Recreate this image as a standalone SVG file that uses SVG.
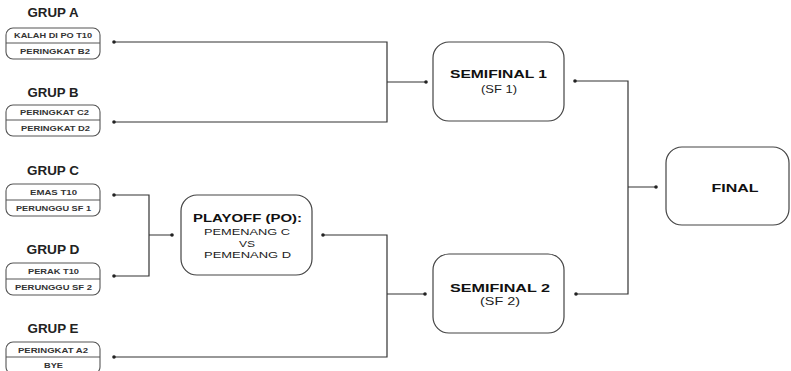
<svg xmlns="http://www.w3.org/2000/svg" width="791" height="371" viewBox="0 0 791 371">
<style>
.bg{fill:#ffffff}
.gbox{fill:#fff;stroke:#555;stroke-width:1.1}
.div{stroke:#555;stroke-width:1}
.node{fill:#fff;stroke:#444;stroke-width:1.2}
.title{font-family:"Liberation Sans",Arial,sans-serif;font-weight:bold;font-size:13px;fill:#222;text-anchor:middle}
.cell{font-family:"Liberation Sans",Arial,sans-serif;font-weight:bold;font-size:7px;fill:#333;text-anchor:middle}
.big{font-family:"Liberation Sans",Arial,sans-serif;font-weight:bold;font-size:10.5px;fill:#111;text-anchor:middle}
.sub{font-family:"Liberation Sans",Arial,sans-serif;font-size:9.5px;fill:#222;text-anchor:middle}
.sf{font-size:10.5px}
.wire{fill:none;stroke:#333;stroke-width:1.2}
.dot{fill:#222}
</style>
<rect class="bg" x="0" y="0" width="791" height="371"/>

<g id="grup-a">
<text class="title" x="53" y="17" textLength="51" lengthAdjust="spacingAndGlyphs">GRUP A</text>
<rect class="gbox" x="6" y="28" width="94" height="31" rx="7"/>
<line class="div" x1="6" y1="43" x2="100" y2="43"/>
<text class="cell" x="53" y="37.5" textLength="78" lengthAdjust="spacingAndGlyphs">KALAH DI PO T10</text>
<text class="cell" x="55" y="54" textLength="70" lengthAdjust="spacingAndGlyphs">PERINGKAT B2</text>
</g>

<g id="grup-b">
<text class="title" x="53" y="97" textLength="51" lengthAdjust="spacingAndGlyphs">GRUP B</text>
<rect class="gbox" x="6" y="105" width="94" height="31" rx="7"/>
<line class="div" x1="6" y1="120" x2="100" y2="120"/>
<text class="cell" x="54.5" y="115" textLength="69" lengthAdjust="spacingAndGlyphs">PERINGKAT C2</text>
<text class="cell" x="55.5" y="131" textLength="69" lengthAdjust="spacingAndGlyphs">PERINGKAT D2</text>
</g>

<g id="grup-c">
<text class="title" x="53" y="175" textLength="52" lengthAdjust="spacingAndGlyphs">GRUP C</text>
<rect class="gbox" x="6" y="184" width="94" height="32" rx="7"/>
<line class="div" x1="6" y1="200" x2="100" y2="200"/>
<text class="cell" x="53.5" y="195" textLength="47" lengthAdjust="spacingAndGlyphs">EMAS T10</text>
<text class="cell" x="53.5" y="211" textLength="75" lengthAdjust="spacingAndGlyphs">PERUNGGU SF 1</text>
</g>

<g id="grup-d">
<text class="title" x="53" y="254" textLength="53" lengthAdjust="spacingAndGlyphs">GRUP D</text>
<rect class="gbox" x="6" y="263" width="94" height="32" rx="7"/>
<line class="div" x1="6" y1="279" x2="100" y2="279"/>
<text class="cell" x="53.5" y="274" textLength="51" lengthAdjust="spacingAndGlyphs">PERAK T10</text>
<text class="cell" x="53.5" y="290" textLength="77" lengthAdjust="spacingAndGlyphs">PERUNGGU SF 2</text>
</g>

<g id="grup-e">
<text class="title" x="53" y="333" textLength="51" lengthAdjust="spacingAndGlyphs">GRUP E</text>
<rect class="gbox" x="6" y="342" width="94" height="32" rx="7"/>
<line class="div" x1="6" y1="357" x2="100" y2="357"/>
<text class="cell" x="53" y="353" textLength="70" lengthAdjust="spacingAndGlyphs">PERINGKAT A2</text>
<text class="cell" x="53.5" y="368" textLength="19" lengthAdjust="spacingAndGlyphs">BYE</text>
</g>

<g id="playoff">
<rect class="node" x="181" y="195" width="131" height="80" rx="16"/>
<text class="big" x="247.5" y="222" textLength="109" lengthAdjust="spacingAndGlyphs">PLAYOFF (PO):</text>
<text class="sub" x="247" y="235" textLength="86" lengthAdjust="spacingAndGlyphs">PEMENANG C</text>
<text class="sub" x="247" y="247" textLength="16" lengthAdjust="spacingAndGlyphs">VS</text>
<text class="sub" x="247.5" y="258" textLength="87" lengthAdjust="spacingAndGlyphs">PEMENANG D</text>
</g>

<g id="semifinal-1">
<rect class="node" x="433" y="42" width="131" height="79" rx="16"/>
<text class="big" x="498.5" y="78" textLength="97" lengthAdjust="spacingAndGlyphs">SEMIFINAL 1</text>
<text class="sub sf" x="499" y="93" textLength="36" lengthAdjust="spacingAndGlyphs">(SF 1)</text>
</g>

<g id="semifinal-2">
<rect class="node" x="433" y="254" width="131" height="79" rx="16"/>
<text class="big" x="500" y="292" textLength="100" lengthAdjust="spacingAndGlyphs">SEMIFINAL 2</text>
<text class="sub sf" x="500" y="305" textLength="40" lengthAdjust="spacingAndGlyphs">(SF 2)</text>
</g>

<g id="final">
<rect class="node" x="666" y="147" width="123" height="78" rx="16"/>
<text class="big" x="735" y="192" textLength="47" lengthAdjust="spacingAndGlyphs">FINAL</text>
</g>

<g id="connectors">
<path class="wire" d="M114 42 H387 V122 H114 M387 82 H426"/>
<path class="wire" d="M114 195 H149 V276 H114 M149 235 H172"/>
<path class="wire" d="M323 235 H387 V357 H114 M387 294 H425"/>
<path class="wire" d="M575 81 H628 V294 H576 M628 187 H656"/>
<circle class="dot" cx="114" cy="42" r="1.8"/>
<circle class="dot" cx="114" cy="122" r="1.8"/>
<circle class="dot" cx="426" cy="82" r="1.8"/>
<circle class="dot" cx="114" cy="195" r="1.8"/>
<circle class="dot" cx="114" cy="276" r="1.8"/>
<circle class="dot" cx="172" cy="235" r="1.8"/>
<circle class="dot" cx="323" cy="235" r="1.8"/>
<circle class="dot" cx="114" cy="357" r="1.8"/>
<circle class="dot" cx="425" cy="294" r="1.8"/>
<circle class="dot" cx="575" cy="81" r="1.8"/>
<circle class="dot" cx="576" cy="294" r="1.8"/>
<circle class="dot" cx="656" cy="187" r="1.8"/>
</g>
</svg>
